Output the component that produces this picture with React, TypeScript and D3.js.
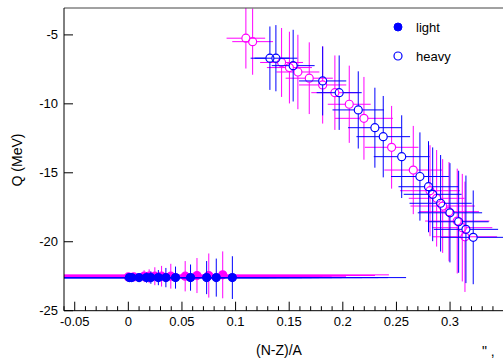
import React from "react";
import * as d3 from "d3";

// ---- data ----
const lightBlueX = [0.001, 0.003, 0.010, 0.017, 0.021, 0.028, 0.035, 0.044, 0.058, 0.073, 0.082, 0.097];
const lightBlueY = [-22.6, -22.6, -22.6, -22.6, -22.6, -22.6, -22.6, -22.6, -22.6, -22.6, -22.6, -22.6];
const lightBlueXErr = [0.13, 0.135, 0.14, 0.145, 0.15, 0.15, 0.155, 0.155, 0.16, 0.16, 0.16, 0.162];
const lightBlueYErr = [0.05, 0.1, 0.2, 0.37, 0.45, 0.55, 0.7, 0.8, 0.95, 1.2, 1.38, 1.55];

const lightMagX = [0.0, 0.005, 0.0147, 0.0194, 0.0247, 0.031, 0.0396, 0.053, 0.064, 0.075, 0.088];
const lightMagY = [-22.55, -22.55, -22.5, -22.5, -22.5, -22.5, -22.5, -22.5, -22.45, -22.45, -22.4];
const lightMagXErr = [0.13, 0.135, 0.14, 0.14, 0.145, 0.15, 0.15, 0.15, 0.152, 0.155, 0.155];
const lightMagYErr = [0.1, 0.2, 0.43, 0.5, 0.65, 0.75, 0.9, 1.1, 1.27, 1.6, 1.7];

const heavyMagX = [0.1096, 0.1159, 0.1429, 0.1502, 0.1581, 0.1687, 0.1812, 0.1926, 0.206, 0.2197, 0.2455, 0.2657, 0.2813, 0.2875, 0.2931, 0.299, 0.3067, 0.3114, 0.3139];
const heavyMagY = [-5.24, -5.49, -7.0, -7.37, -7.69, -8.14, -8.63, -9.19, -10.03, -11.05, -13.15, -14.8, -16.3, -16.85, -17.41, -17.82, -18.5, -18.98, -19.64];
const heavyMagXErr = [0.018, 0.019, 0.02, 0.021, 0.02, 0.022, 0.022, 0.022, 0.02, 0.027, 0.025, 0.027, 0.028, 0.026, 0.03, 0.028, 0.03, 0.028, 0.03];
const heavyMagYErr = [2.2, 2.4, 2.5, 2.6, 2.7, 2.6, 2.8, 2.7, 2.8, 3.0, 3.0, 3.2, 3.3, 3.5, 3.4, 3.6, 3.8, 3.9, 4.0];

const heavyBlueX = [0.132, 0.1376, 0.1537, 0.1812, 0.1966, 0.2144, 0.2299, 0.2377, 0.2549, 0.2719, 0.2799, 0.2838, 0.2912, 0.2999, 0.308, 0.3148, 0.3216];
const heavyBlueY = [-6.69, -6.69, -7.23, -8.34, -9.19, -10.44, -11.73, -12.38, -13.83, -15.27, -16.01, -16.56, -17.21, -17.9, -18.55, -19.1, -19.68];
const heavyBlueXErr = [0.018, 0.02, 0.02, 0.022, 0.021, 0.024, 0.025, 0.025, 0.026, 0.027, 0.028, 0.027, 0.029, 0.03, 0.028, 0.03, 0.03];
const heavyBlueYErr = [2.3, 2.4, 2.6, 2.5, 2.7, 2.8, 2.9, 2.95, 3.0, 3.2, 3.3, 3.4, 3.5, 3.6, 3.7, 3.9, 3.4];

const xTicks = [-0.05, 0, 0.05, 0.1, 0.15, 0.2, 0.25, 0.3];
const xTickLabels = ["-0.05", "0", "0.05", "0.1", "0.15", "0.2", "0.25", "0.3"];
const yTicks = [-25, -20, -15, -10, -5];
const yTickLabels = ["-25", "-20", "-15", "-10", "-5"];
const legendLabels = ["light", "heavy"];

const W = 503;
const H = 359;
const L = 64, T = 8, B = 310.7, R = 514.4;
const FONT = "Liberation Sans, Arial, Helvetica, sans-serif";

const x = d3.scaleLinear().domain([-0.06, 0.36]).range([L, R]);
const y = d3.scaleLinear().domain([-25, -3.05]).range([B, T]);

type S = { xs: number[]; ys: number[]; xe: number[]; ye: number[]; color: string; filled: boolean };

function Series({ xs, ys, xe, ye, color, filled }: S) {
  const r = 4;
  return (
    <g>
      {xs.map((xv, i) => {
        const cx = x(xv), cy = y(ys[i]);
        const x0 = x(xv - xe[i]), x1 = x(xv + xe[i]);
        const y0 = y(ys[i] + ye[i]), y1 = y(ys[i] - ye[i]);
        return (
          <g key={i} stroke={color} strokeWidth={1}>
            {cx - r > x0 && <line x1={x0} x2={cx - r} y1={cy} y2={cy} />}
            {cx + r < x1 && <line x1={cx + r} x2={x1} y1={cy} y2={cy} />}
            {cy - r > y0 && <line x1={cx} x2={cx} y1={y0} y2={cy - r} />}
            {cy + r < y1 && <line x1={cx} x2={cx} y1={cy + r} y2={y1} />}
          </g>
        );
      })}
      {xs.map((xv, i) => (
        <circle key={"c" + i} cx={x(xv)} cy={y(ys[i])} r={r}
          fill={filled ? color : "none"} stroke={color} strokeWidth={1.2} />
      ))}
    </g>
  );
}

export default function App() {
  const minorTicks = d3.range(-6, 37).map((v) => v / 100).filter((v) => !xTicks.some((t) => Math.abs(t - v) < 1e-9));
  return (
    <svg width={W} height={H} style={{ position: "absolute", left: 0, top: 0, display: "block" }}
      fontFamily={FONT}>
      <rect x={0} y={0} width={W} height={H} fill="#fff" />
      <defs>
        <clipPath id="plotclip">
          <rect x={L} y={T} width={R - L} height={B - T} />
        </clipPath>
      </defs>
      <g clipPath="url(#plotclip)">
        <Series xs={lightMagX} ys={lightMagY} xe={lightMagXErr} ye={lightMagYErr} color="#ff00ff" filled={true} />
        <Series xs={lightBlueX} ys={lightBlueY} xe={lightBlueXErr} ye={lightBlueYErr} color="#0000ff" filled={true} />
        <Series xs={heavyMagX} ys={heavyMagY} xe={heavyMagXErr} ye={heavyMagYErr} color="#ff00ff" filled={false} />
        <Series xs={heavyBlueX} ys={heavyBlueY} xe={heavyBlueXErr} ye={heavyBlueYErr} color="#0000ff" filled={false} />
      </g>
      {/* frame */}
      <line x1={L} x2={R} y1={T} y2={T} stroke="#444" strokeWidth={1} />
      <line x1={L} x2={L} y1={T} y2={B} stroke="#000" strokeWidth={1} />
      <line x1={L} x2={R} y1={B} y2={B} stroke="#000" strokeWidth={1} />
      {/* x ticks */}
      {xTicks.map((t, i) => (
        <g key={"xt" + i}>
          <line x1={x(t)} x2={x(t)} y1={B} y2={B - 9} stroke="#000" />
          <text x={x(t)} y={325.5} fontSize={13} textAnchor="middle">{xTickLabels[i]}</text>
        </g>
      ))}
      {minorTicks.map((t, i) => (
        <line key={"xm" + i} x1={x(t)} x2={x(t)} y1={B} y2={B - 4.5} stroke="#000" />
      ))}
      {/* y ticks */}
      {yTicks.map((t, i) => (
        <g key={"yt" + i}>
          <line x1={L} x2={L + 9} y1={y(t)} y2={y(t)} stroke="#000" />
          <text x={58} y={y(t) + 4.5} fontSize={13} textAnchor="end">{yTickLabels[i]}</text>
        </g>
      ))}
      {/* axis titles */}
      <text x={256} y={355} fontSize={14}>(N-Z)/A</text>
      <text transform={`translate(22,160) rotate(-90)`} fontSize={14} textAnchor="middle">Q (MeV)</text>
      <text x={482} y={356} fontSize={14}>" ,</text>
      {/* legend */}
      <circle cx={398} cy={27} r={4} fill="#0000ff" stroke="#0000ff" />
      <text x={416} y={32} fontSize={13}>{legendLabels[0]}</text>
      <circle cx={398} cy={56} r={4} fill="none" stroke="#0000ff" strokeWidth={1.2} />
      <text x={416} y={60.5} fontSize={13}>{legendLabels[1]}</text>
    </svg>
  );
}
